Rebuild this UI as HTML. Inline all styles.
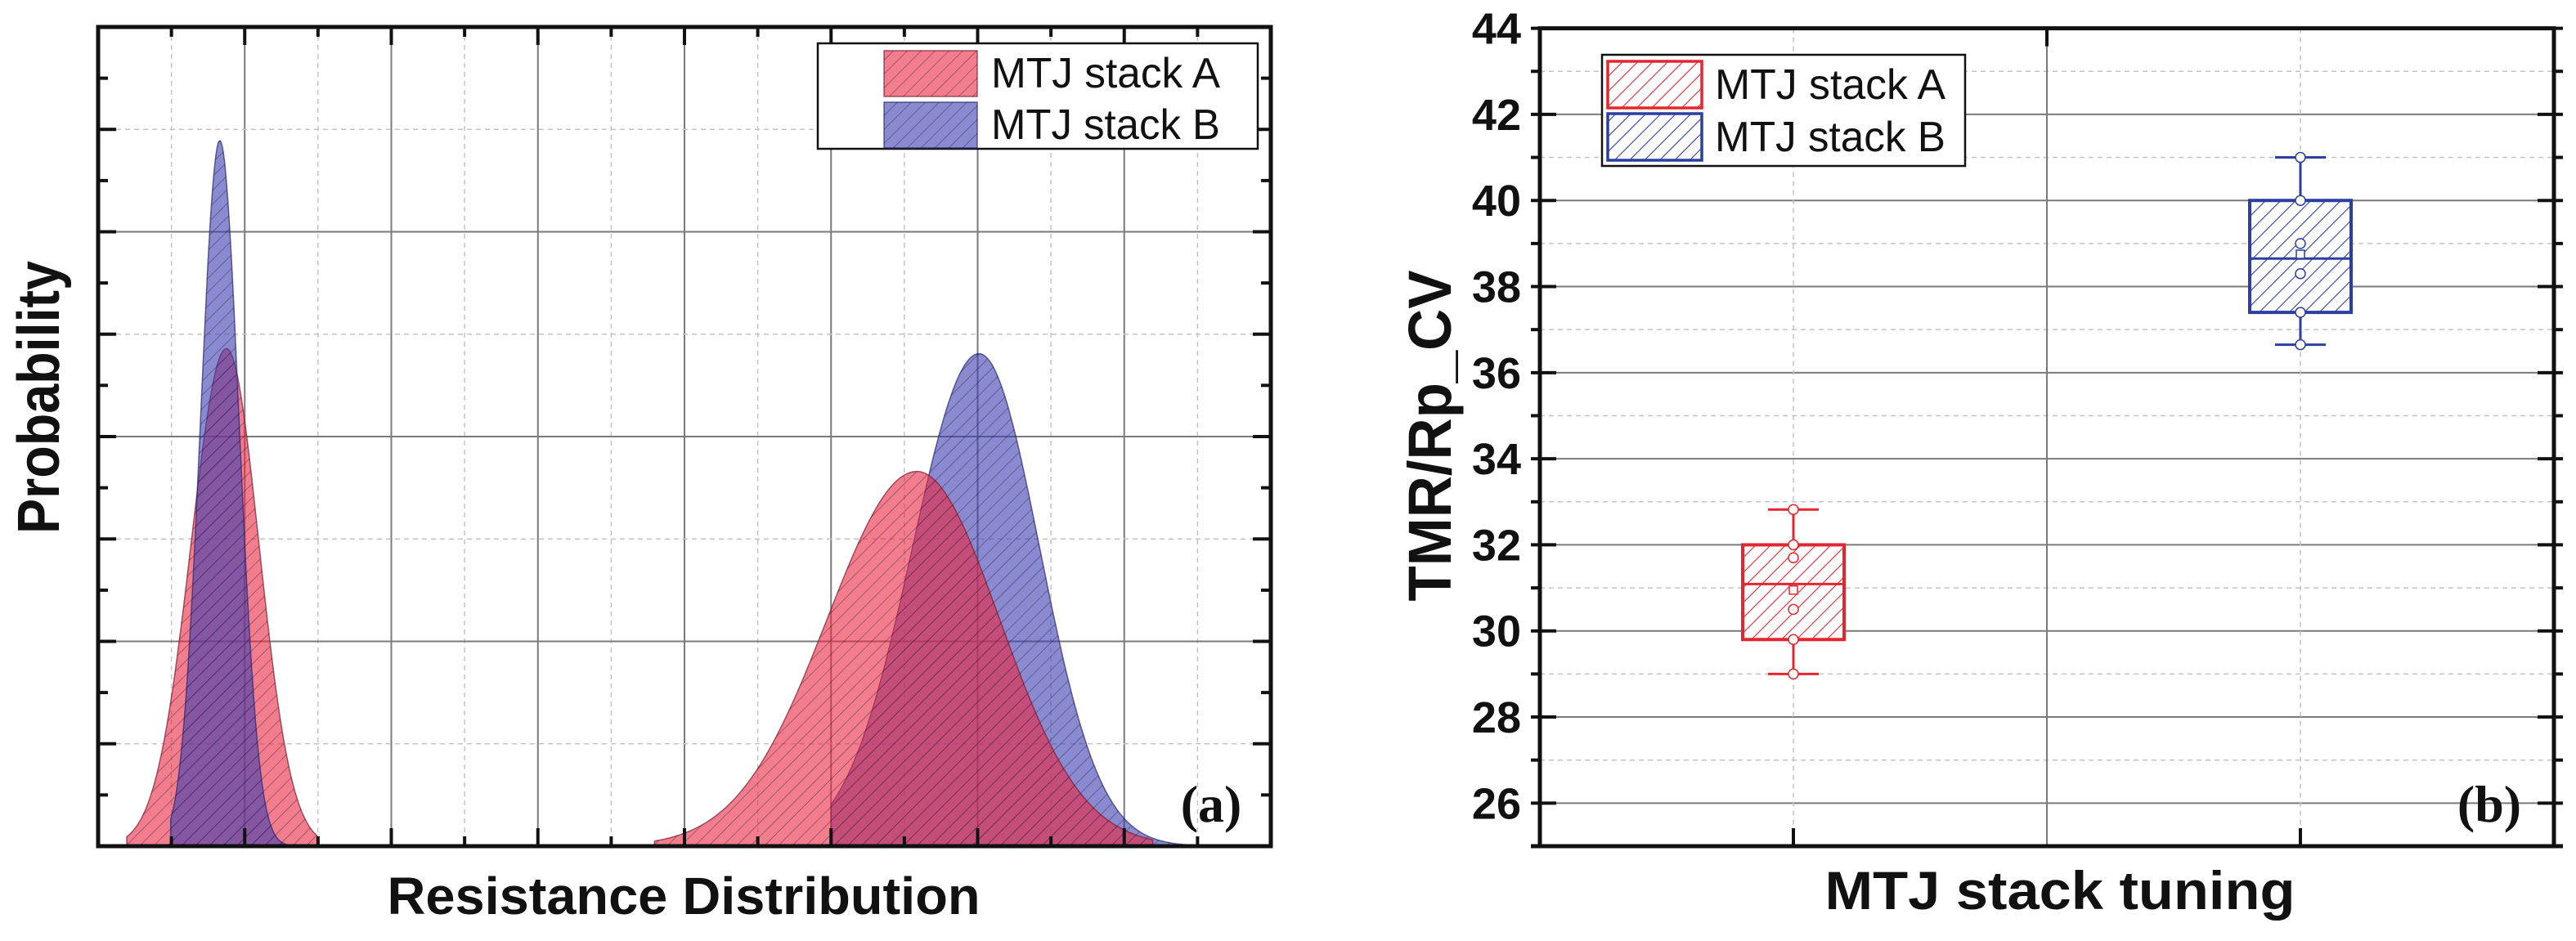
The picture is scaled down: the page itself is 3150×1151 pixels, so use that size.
<!DOCTYPE html>
<html><head><meta charset="utf-8"><style>
html,body{margin:0;padding:0;background:#fff;}
svg{display:block;}
</style></head><body>
<svg id="fig" width="3150" height="1151" viewBox="0 0 3150 1151" xmlns="http://www.w3.org/2000/svg">
<defs>
<pattern id="hatchDark" patternUnits="userSpaceOnUse" width="12" height="12" patternTransform="rotate(45)">
<line x1="0" y1="0" x2="0" y2="12" stroke="rgba(30,10,40,0.45)" stroke-width="1.6"/>
</pattern>
<pattern id="hatchRed" patternUnits="userSpaceOnUse" width="13" height="13" patternTransform="rotate(45)">
<line x1="0" y1="0" x2="0" y2="13" stroke="#e3262f" stroke-width="2.2"/>
</pattern>
<pattern id="hatchBlue" patternUnits="userSpaceOnUse" width="13" height="13" patternTransform="rotate(45)">
<line x1="0" y1="0" x2="0" y2="13" stroke="#2c3f9e" stroke-width="2.2"/>
</pattern>
</defs>
<g id="panelA"></g>
<g id="panelB"></g>
</svg>
<script>
// ---------- Panel (a) data ----------
const distNames = ['A-low', 'B-low', 'B-high', 'A-high'];
const distSeries = ['A', 'B', 'B', 'A'];
const distMeans = [1.75, 1.66, 12.02, 11.17];
const distSigmaLeft = [0.483, 0.262, 0.91, 1.223];
const distSigmaRight = [0.445, 0.262, 0.825, 1.128];
const distPeaks = [4.86, 6.89, 4.81, 3.66];
const distXMin = [0.39, 0.99, 10.0, 7.59];
const distXMax = [2.99, 2.76, 15.03, 14.39];
const legendA = ['MTJ stack A', 'MTJ stack B'];

// ---------- Panel (b) data ----------
const boxCategories = ['MTJ stack A', 'MTJ stack B'];
const boxQ1 = [29.8, 37.4];
const boxQ3 = [32.0, 40.0];
const boxMedian = [31.09, 38.65];
const boxMean = [30.95, 38.75];
const boxWhiskLow = [29.0, 36.65];
const boxWhiskHigh = [32.82, 41.0];
const boxPointsA = [32.82, 32.0, 31.7, 30.5, 29.8, 29.0];
const boxPointsB = [41.0, 40.0, 39.0, 38.3, 37.4, 36.65];
const yTicks = [26, 28, 30, 32, 34, 36, 38, 40, 42, 44];

const NS = 'http://www.w3.org/2000/svg';
function mk(parent, tag, attrs, text) {
  const e = document.createElementNS(NS, tag);
  for (const k in attrs) e.setAttribute(k, attrs[k]);
  if (text !== undefined) e.textContent = text;
  parent.appendChild(e);
  return e;
}

// ===== Panel A =====
const A = document.getElementById('panelA');
const aL = 120, aR = 1554, aT = 33, aB = 1035;
const ax = u => aL + u * (aR - aL) / 16;
const ay = v => aB - v * (aB - aT) / 8;

for (let k = 1; k < 16; k++) {
  const g = mk(A, 'line', {x1: ax(k), x2: ax(k), y1: aT, y2: aB, stroke: k % 2 === 0 ? '#7a7a7a' : '#c4c4c4', 'stroke-width': k % 2 === 0 ? 2 : 1.5, 'stroke-dasharray': k % 2 === 0 ? '' : '6,5'});
  
  
}
for (let k = 1; k < 8; k++) {
  const g = mk(A, 'line', {x1: aL, x2: aR, y1: ay(k), y2: ay(k), stroke: k % 2 === 0 ? '#7a7a7a' : '#c4c4c4', 'stroke-width': k % 2 === 0 ? 2 : 1.5, 'stroke-dasharray': k % 2 === 0 ? '' : '6,5'});
  
  
}

const colors = {A: 'rgba(233,38,65,0.6)', B: 'rgba(60,60,177,0.6)'};
const strokes = {A: 'rgba(120,30,50,0.7)', B: 'rgba(40,40,110,0.7)'};
for (let i = 0; i < distMeans.length; i++) {
  const pts = [];
  const n = 160;
  for (let j = 0; j <= n; j++) {
    const u = distXMin[i] + (distXMax[i] - distXMin[i]) * j / n;
    const s = u < distMeans[i] ? distSigmaLeft[i] : distSigmaRight[i];
    const v = distPeaks[i] * Math.exp(-0.5 * Math.pow((u - distMeans[i]) / s, 2));
    pts.push(ax(u).toFixed(1) + ',' + ay(v).toFixed(1));
  }
  const d = 'M' + ax(distXMin[i]).toFixed(1) + ',' + aB + ' L' + pts.join(' L') + ' L' + ax(distXMax[i]).toFixed(1) + ',' + aB + ' Z';
  const p = mk(A, 'path', {d: d, fill: colors[distSeries[i]], stroke: strokes[distSeries[i]], 'stroke-width': 1.5});
  
  
  const h = mk(A, 'path', {d: d, fill: 'url(#hatchDark)'});
  
  
}

// ticks panel A
for (let k = 0; k <= 16; k++) {
  const len = k % 2 === 0 ? 22 : 12;
  mk(A, 'line', {x1: ax(k), x2: ax(k), y1: aB, y2: aB - len, stroke: '#111', 'stroke-width': 4});
  mk(A, 'line', {x1: ax(k), x2: ax(k), y1: aT, y2: aT + len, stroke: '#111', 'stroke-width': 4});
}
for (let k = 0; k <= 16; k++) {
  const v = k / 2;
  const len = k % 2 === 0 ? 22 : 12;
  mk(A, 'line', {x1: aL, x2: aL + len, y1: ay(v), y2: ay(v), stroke: '#111', 'stroke-width': 4});
  mk(A, 'line', {x1: aR, x2: aR - len, y1: ay(v), y2: ay(v), stroke: '#111', 'stroke-width': 4});
}
const fa = mk(A, 'rect', {x: aL, y: aT, width: aR - aL, height: aB - aT, fill: 'none', stroke: '#111', 'stroke-width': 5});



// legend A
const lgA = mk(A, 'g', {});


mk(lgA, 'rect', {x: 1000, y: 53, width: 538, height: 129, fill: '#fff', stroke: '#111', 'stroke-width': 2.5});
['A', 'B'].forEach((s, i) => {
  const y0 = i === 0 ? 62 : 125;
  const r = mk(lgA, 'rect', {x: 1081, y: y0, width: 114, height: 56, fill: colors[s], stroke: strokes[s], 'stroke-width': 1.5});
  
  
  mk(lgA, 'rect', {x: 1081, y: y0, width: 114, height: 56, fill: 'url(#hatchDark)'});
  const t = mk(lgA, 'text', {x: 1212, y: y0 + 45, 'font-family': '"Liberation Sans Narrow","Liberation Sans",sans-serif', 'font-size': 52, fill: '#111', textLength: 280, lengthAdjust: 'spacingAndGlyphs'}, legendA[i]);
  
  
});
const la = mk(A, 'text', {x: 1481, y: 1005, 'text-anchor': 'middle', 'font-family': '"Liberation Serif",serif', 'font-weight': 'bold', 'font-size': 64, fill: '#111'}, '(a)');


const xta = mk(A, 'text', {x: 836, y: 1118, 'text-anchor': 'middle', 'font-family': '"Liberation Sans",sans-serif', 'font-weight': 'bold', 'font-size': 64, fill: '#111', textLength: 725, lengthAdjust: 'spacingAndGlyphs'}, 'Resistance Distribution');


const yta = mk(A, 'text', {x: 0, y: 0, transform: 'translate(72,486) rotate(-90)', 'text-anchor': 'middle', 'font-family': '"Liberation Sans",sans-serif', 'font-weight': 'bold', 'font-size': 72, fill: '#111', textLength: 334, lengthAdjust: 'spacingAndGlyphs'}, 'Probability');



// ===== Panel B =====
const B = document.getElementById('panelB');
const bL = 1883, bR = 3123, bT = 34.6, bB = 1035;
const bx = c => bL + (bR - bL) * (0.25 + 0.5 * c);
const by = v => bT + (44 - v) * (bB - bT) / 19;

for (let v = 25; v <= 44; v++) {
  if (v === 25 || v === 44) continue;
  const even = v % 2 === 0;
  const g = mk(B, 'line', {x1: bL, x2: bR, y1: by(v), y2: by(v), stroke: even ? '#7a7a7a' : '#c4c4c4', 'stroke-width': even ? 2 : 1.5, 'stroke-dasharray': even ? '' : '6,5'});
  
  
}
[0, 1].forEach(c => {
  const g = mk(B, 'line', {x1: bx(c), x2: bx(c), y1: bT, y2: bB, stroke: '#c4c4c4', 'stroke-width': 1.5, 'stroke-dasharray': '6,5'});
  
  
});
mk(B, 'line', {x1: (bL + bR) / 2, x2: (bL + bR) / 2, y1: bT, y2: bB, stroke: '#7a7a7a', 'stroke-width': 2});

const boxColors = ['#e3262f', '#2c3f9e'];
const boxHatch = ['url(#hatchRed)', 'url(#hatchBlue)'];
const boxPts = [boxPointsA, boxPointsB];
const halfW = 62, capW = 31;
for (let c = 0; c < boxCategories.length; c++) {
  const g = mk(B, 'g', {});
  
  
  const cx = bx(c), col = boxColors[c];
  mk(g, 'line', {x1: cx, x2: cx, y1: by(boxWhiskHigh[c]), y2: by(boxQ3[c]), stroke: col, 'stroke-width': 3});
  mk(g, 'line', {x1: cx, x2: cx, y1: by(boxQ1[c]), y2: by(boxWhiskLow[c]), stroke: col, 'stroke-width': 3});
  mk(g, 'line', {x1: cx - capW, x2: cx + capW, y1: by(boxWhiskHigh[c]), y2: by(boxWhiskHigh[c]), stroke: col, 'stroke-width': 3});
  mk(g, 'line', {x1: cx - capW, x2: cx + capW, y1: by(boxWhiskLow[c]), y2: by(boxWhiskLow[c]), stroke: col, 'stroke-width': 3});
  mk(g, 'rect', {x: cx - halfW, y: by(boxQ3[c]), width: 2 * halfW, height: by(boxQ1[c]) - by(boxQ3[c]), fill: '#fff'});
  mk(g, 'rect', {x: cx - halfW, y: by(boxQ3[c]), width: 2 * halfW, height: by(boxQ1[c]) - by(boxQ3[c]), fill: boxHatch[c], stroke: col, 'stroke-width': 4});
  mk(g, 'line', {x1: cx - halfW, x2: cx + halfW, y1: by(boxMedian[c]), y2: by(boxMedian[c]), stroke: col, 'stroke-width': 3});
  mk(g, 'rect', {x: cx - 5, y: by(boxMean[c]) - 5, width: 10, height: 10, fill: '#fff', stroke: col, 'stroke-width': 1.5});
  boxPts[c].forEach(v => {
    const p = mk(g, 'circle', {cx: cx, cy: by(v), r: 6, fill: '#fff', stroke: col, 'stroke-width': 1.5});
    
    
  });
}

// ticks panel B
for (let v = 25; v <= 44; v++) {
  const even = v % 2 === 0;
  mk(B, 'line', {x1: bL - 11, x2: bL + (even ? 20 : 0), y1: by(v), y2: by(v), stroke: '#111', 'stroke-width': 4});
  mk(B, 'line', {x1: bR + 11, x2: bR - (even ? 20 : 0), y1: by(v), y2: by(v), stroke: '#111', 'stroke-width': 4});
}
yTicks.forEach(v => {
  const t = mk(B, 'text', {x: 1860, y: by(v) + 19, 'text-anchor': 'end', 'font-family': '"Liberation Sans Narrow","Liberation Sans",sans-serif', 'font-weight': 'bold', 'font-size': 54, fill: '#111'}, String(v));
  
  
});
[0, 1].forEach(c => mk(B, 'line', {x1: bx(c), x2: bx(c), y1: bB, y2: bB - 22, stroke: '#111', 'stroke-width': 4}));
mk(B, 'line', {x1: (bL + bR) / 2, x2: (bL + bR) / 2, y1: bT, y2: bT + 22, stroke: '#111', 'stroke-width': 4});
mk(B, 'line', {x1: bL - 11, x2: bR + 11, y1: bB, y2: bB, stroke: '#111', 'stroke-width': 5});
const fb = mk(B, 'rect', {x: bL, y: bT, width: bR - bL, height: bB - bT, fill: 'none', stroke: '#111', 'stroke-width': 5});



const lgB = mk(B, 'g', {});


mk(lgB, 'rect', {x: 1959, y: 67, width: 444, height: 136, fill: '#fff', stroke: '#111', 'stroke-width': 2.5});
[0, 1].forEach(c => {
  const y0 = c === 0 ? 75 : 139;
  const r = mk(lgB, 'rect', {x: 1966, y: y0, width: 115, height: 57, fill: boxHatch[c], stroke: boxColors[c], 'stroke-width': 3.5});
  
  
  const t = mk(lgB, 'text', {x: 2097, y: y0 + 46, 'font-family': '"Liberation Sans Narrow","Liberation Sans",sans-serif', 'font-size': 52, fill: '#111', textLength: 282, lengthAdjust: 'spacingAndGlyphs'}, boxCategories[c]);
  
  
});
const lb = mk(B, 'text', {x: 3044, y: 1005, 'text-anchor': 'middle', 'font-family': '"Liberation Serif",serif', 'font-weight': 'bold', 'font-size': 64, fill: '#111'}, '(b)');


const xtb = mk(B, 'text', {x: 2519, y: 1112, 'text-anchor': 'middle', 'font-family': '"Liberation Sans",sans-serif', 'font-weight': 'bold', 'font-size': 66, fill: '#111', textLength: 575, lengthAdjust: 'spacingAndGlyphs'}, 'MTJ stack tuning');


const ytb = mk(B, 'text', {x: 0, y: 0, transform: 'translate(1774,533) rotate(-90)', 'text-anchor': 'middle', 'font-family': '"Liberation Sans",sans-serif', 'font-weight': 'bold', 'font-size': 74, fill: '#111', textLength: 405, lengthAdjust: 'spacingAndGlyphs'}, 'TMR/Rp_CV');


</script>
</body></html>
